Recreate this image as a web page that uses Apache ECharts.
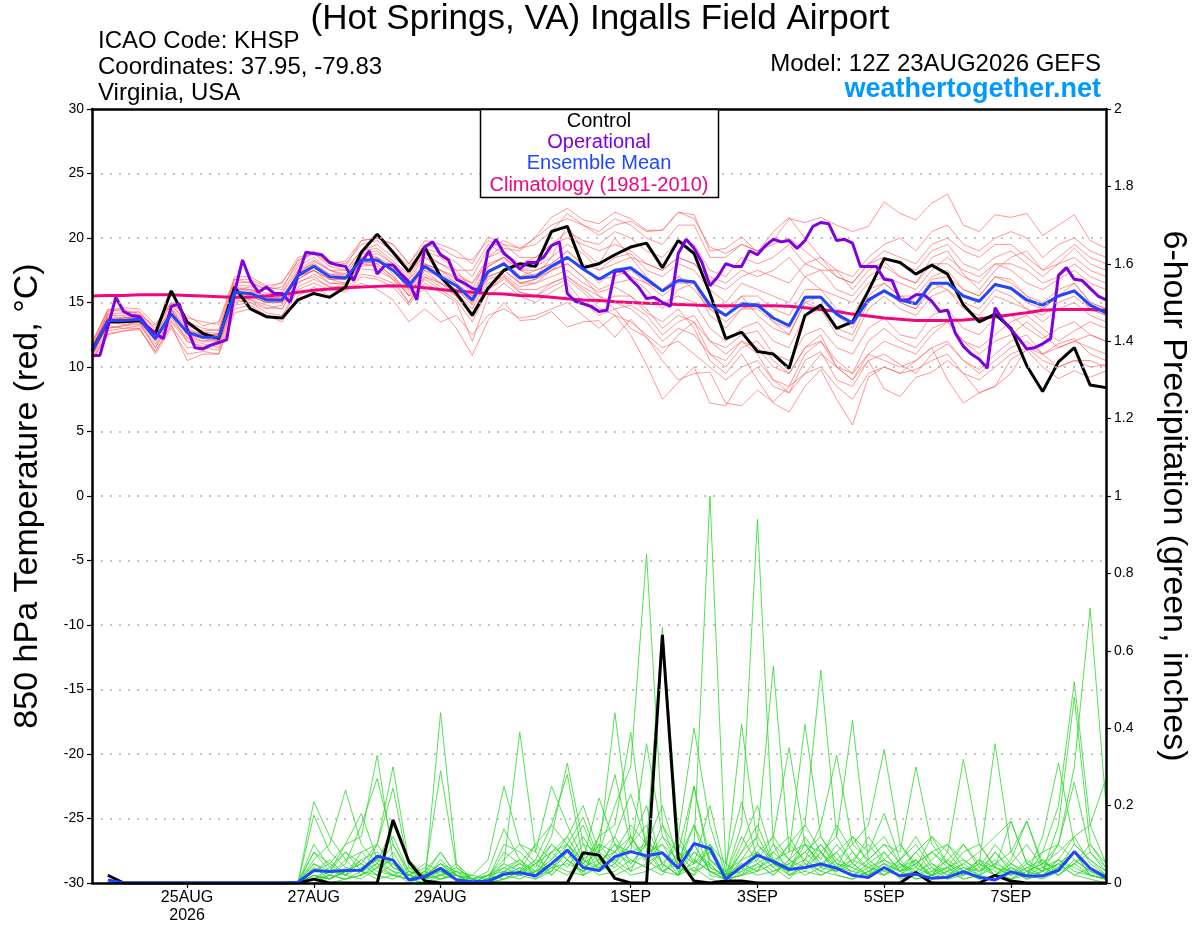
<!DOCTYPE html>
<html>
<head>
<meta charset="utf-8">
<script src="https://cdn.jsdelivr.net/npm/echarts@6/dist/echarts.min.js"></script>
<style>
html,body{margin:0;padding:0;background:#fff;}
#chart{width:1200px;height:927px;}
</style>
</head>
<body>
<div id="chart"></div>
<script>
// ---- x axis: 3-hourly steps from 12Z 23AUG2026 (hours 0..384) ----
const tickHours  = [36, 84, 132, 204, 252, 300, 348];
const tickLabels = ['25AUG\n2026', '27AUG', '29AUG', '1SEP', '3SEP', '5SEP', '7SEP'];

// ---- 850 hPa temperature (deg C), 6-hourly, 65 values ----
const climatology = [15.5,15.55,15.55,15.6,15.6,15.6,15.55,15.5,15.45,15.4,15.4,15.5,15.6,
 15.8,15.95,16.05,16.15,16.2,16.25,16.3,16.25,16.15,16.0,15.9,15.8,15.7,
 15.65,15.55,15.5,15.4,15.3,15.2,15.15,15.05,15.0,14.95,14.9,14.85,14.8,
 14.75,14.75,14.75,14.75,14.75,14.7,14.6,14.45,14.3,14.1,13.95,13.8,13.7,
 13.6,13.6,13.6,13.65,13.75,13.9,14.05,14.2,14.4,14.45,14.45,14.45,14.4];
const controlT = [11.3,13.5,13.5,13.6,12.6,15.9,13.5,12.6,12.2,16.2,14.5,13.9,13.8,
 15.2,15.7,15.4,16.2,18.9,20.3,18.9,17.4,19.3,17.0,15.7,14.0,16.1,
 17.5,18.0,17.8,20.5,20.9,17.7,18.0,18.7,19.3,19.6,17.7,19.8,18.8,
 15.7,12.2,12.7,11.2,11.0,9.9,14.0,14.8,13.0,13.5,15.9,18.4,18.1,
 17.2,17.9,17.2,14.8,13.5,14.1,13.0,10.1,8.1,10.4,11.5,8.6,8.4];
const meanT = [11.2,13.6,13.6,13.7,12.2,14.1,12.7,12.3,12.3,15.8,15.7,15.2,15.2,
 17.1,17.8,17.0,16.9,18.3,18.3,17.5,16.3,17.8,17.0,16.3,15.2,17.4,
 18.0,16.9,17.0,17.8,18.5,17.6,16.8,17.5,17.7,16.8,15.9,16.7,16.6,
 14.8,14.0,14.9,14.8,13.8,13.2,15.4,15.4,14.1,13.4,15.2,15.9,15.2,
 14.9,16.5,16.5,15.5,15.1,16.4,16.1,15.2,14.8,15.5,15.9,14.8,14.2];
// operational run, 3-hourly, 129 values
const operationalT = [10.9,10.9,13.1,15.4,14.3,14.0,13.9,13.1,12.6,12.2,14.7,14.9,13.0,11.5,11.4,11.7,
 11.9,12.1,15.8,18.3,16.7,15.8,16.2,15.7,15.7,15.0,17.1,18.9,18.8,18.7,18.1,17.9,
 17.8,16.7,18.1,19.0,17.2,17.9,17.9,17.2,16.6,15.2,19.3,19.7,18.7,18.3,16.8,16.5,
 16.1,15.9,19.0,19.9,18.8,18.3,17.6,18.1,18.1,18.5,19.4,19.7,15.7,15.1,14.9,14.7,
 14.3,14.4,17.4,17.5,16.8,16.2,15.3,15.4,15.0,14.7,18.8,19.9,19.2,18.1,16.3,17.0,
 18.0,17.8,17.8,19.0,18.7,19.4,19.9,19.7,19.8,19.2,19.8,20.9,21.2,21.1,19.8,19.9,
 19.6,17.8,17.8,17.8,16.8,16.7,15.2,15.2,15.6,15.6,15.1,14.3,14.4,12.6,11.6,11.0,
 10.6,9.9,14.6,13.6,12.9,12.2,11.4,11.5,11.8,12.2,17.1,17.7,16.8,16.7,16.1,15.5,15.2];

// ensemble members, 6-hourly, 65 values each
const t01 = [11.5,14.1,14.2,14.3,12.8,14.9,13.3,12.8,12.9,16.5,16.6,16.0,16.2,18.0,18.9,18.2,18.0,19.5,19.8,19.0,17.8,19.2,18.8,18.1,17.0,19.2,19.8,19.2,19.5,20.5,21.9,21.0,20.2,21.0,21.3,20.5,20.6,22.0,21.5,19.3,18.8,19.5,19.0,19.8,21.5,21.2,21.6,21.0,20.5,20.9,22.8,21.9,21.4,22.7,23.4,21.0,20.5,21.8,21.6,21.9,20.2,21.0,21.8,19.8,19.2];
const t02 = [10.8,13.0,13.2,13.3,11.5,13.5,12.0,11.6,11.8,15.0,15.2,14.6,14.5,16.5,17.2,16.5,16.4,17.6,17.5,16.8,15.6,17.0,16.2,15.5,14.2,16.5,17.0,15.8,15.5,16.2,16.8,15.8,14.6,14.0,12.5,10.2,7.5,8.8,10.0,7.2,7.0,9.0,10.0,8.5,8.0,10.5,11.2,9.0,8.5,10.5,11.0,10.2,9.5,11.0,11.8,10.5,9.8,11.0,12.0,12.5,11.0,11.8,12.2,11.0,10.5];
const t03 = [11.0,13.2,13.0,13.2,11.8,13.6,12.2,11.8,11.5,15.2,15.0,14.5,14.8,16.6,17.0,16.2,16.3,17.8,18.0,17.0,15.8,17.2,16.5,15.8,14.5,16.8,17.2,16.2,16.5,17.0,17.5,16.5,15.8,16.2,15.5,14.2,13.5,14.5,13.0,10.5,9.5,11.0,9.0,7.2,6.5,8.5,9.8,7.5,5.5,9.2,10.0,9.5,10.5,11.5,9.0,7.2,8.0,8.5,10.6,11.3,10.0,9.1,9.7,9.2,9.7];
const t04 = [11.8,14.5,14.3,14.2,13.0,14.8,13.5,13.0,12.8,16.8,16.5,16.0,16.6,18.2,19.0,18.0,17.8,19.8,20.0,19.5,18.0,19.5,19.2,18.5,18.3,19.8,19.2,19.0,20.1,21.6,22.3,21.4,21.1,22.0,21.5,20.6,20.6,22.0,21.8,19.0,19.2,20.1,18.9,20.5,21.6,20.0,18.5,17.5,16.0,17.5,18.2,17.0,16.5,18.5,19.0,17.2,16.0,17.5,18.5,19.0,17.5,18.0,19.2,18.0,17.5];
const t05 = [10.5,12.5,12.8,13.0,11.0,13.0,11.0,11.2,11.0,14.5,14.8,14.0,13.8,16.0,16.5,16.0,15.8,17.0,16.8,16.2,14.8,16.5,15.8,15.0,12.0,15.5,16.5,15.5,15.0,15.8,16.5,15.0,14.0,14.5,14.8,14.0,12.5,13.5,14.0,12.0,11.5,12.5,12.8,11.0,10.5,12.5,13.0,11.5,11.0,13.0,13.8,12.5,12.2,14.0,14.5,13.0,12.5,13.8,14.0,13.0,12.2,13.0,13.5,12.5,12.0];
const t06 = [11.0,13.8,13.5,13.6,12.5,14.0,12.8,12.5,12.0,15.5,15.5,15.0,15.0,17.0,17.5,16.8,16.5,18.0,18.5,17.2,15.5,16.0,14.5,13.0,10.9,13.6,15.0,13.6,13.7,14.3,13.1,13.5,13.6,12.3,13.7,12.3,11.0,12.5,13.5,11.0,10.5,12.0,11.0,9.0,8.5,11.0,12.0,10.5,9.5,12.0,13.0,12.0,11.5,13.0,13.5,12.0,11.5,12.5,13.5,14.0,13.0,12.0,12.8,13.5,13.0];
const t07 = [12.0,14.3,14.5,14.0,13.2,15.0,14.0,13.2,13.5,17.0,17.0,16.3,16.5,18.5,18.8,17.8,17.5,19.0,19.5,18.5,17.5,18.5,17.5,17.0,16.5,18.5,19.0,17.5,17.8,18.5,19.5,18.8,17.5,18.5,18.8,17.5,17.0,18.0,17.5,16.0,15.0,16.5,16.0,15.5,15.0,17.0,17.5,16.0,15.5,17.0,17.8,17.0,16.5,18.0,18.0,17.0,16.5,18.0,17.5,16.5,16.0,16.8,17.5,16.5,16.0];
const t08 = [10.8,13.5,13.8,13.9,12.0,14.5,12.5,12.0,12.2,16.0,16.0,15.5,15.0,17.5,18.0,17.2,17.0,18.5,18.2,17.8,16.8,18.0,17.5,16.5,15.5,17.8,18.5,17.0,17.5,18.0,19.0,17.8,16.5,17.5,17.0,16.0,14.5,16.0,16.5,14.0,13.0,14.5,15.0,13.5,12.5,15.0,15.5,14.0,13.0,15.5,16.5,15.5,15.0,16.8,17.0,16.0,15.5,17.0,16.8,15.5,14.5,15.5,16.5,15.0,14.5];
const t09 = [11.3,13.0,13.2,13.5,11.5,14.0,12.0,11.5,11.8,15.5,15.2,14.8,14.5,16.8,17.5,16.5,16.5,18.0,17.8,16.8,15.0,17.0,16.5,15.5,14.0,16.0,17.0,16.0,16.0,16.5,17.0,16.0,15.0,15.5,15.5,14.5,13.0,14.0,13.5,12.0,11.0,12.0,11.5,10.0,9.5,11.5,12.5,10.0,9.0,10.5,8.3,7.7,9.2,9.6,10.5,9.5,8.0,8.5,9.5,11.5,11.0,10.0,10.5,10.0,10.2];
const t10 = [11.5,13.8,13.8,14.0,12.5,14.5,13.0,12.5,12.5,16.2,16.0,15.5,15.8,17.8,18.5,17.5,17.2,18.8,19.0,18.0,16.8,18.5,18.0,17.5,16.0,18.5,19.5,18.5,18.5,19.5,20.5,19.8,19.5,20.5,20.0,19.0,18.5,19.8,19.5,17.5,17.0,18.5,18.0,18.5,19.5,18.0,17.5,17.5,17.0,18.5,19.5,20.0,19.0,20.5,21.0,19.5,19.0,20.0,20.5,20.0,18.5,19.5,20.0,19.0,18.5];
const t11 = [10.9,13.3,13.5,13.4,12.0,13.8,12.3,12.0,12.0,15.3,15.5,15.0,15.2,16.8,17.5,16.8,16.8,18.2,18.5,17.5,16.0,17.5,17.0,16.2,15.0,17.0,17.5,16.5,16.8,17.5,18.0,17.0,16.0,16.5,16.8,15.5,15.0,15.5,15.0,13.0,12.0,13.0,13.5,12.0,11.5,14.0,14.5,12.5,12.0,14.5,15.5,14.5,14.0,15.5,16.0,14.5,14.0,15.5,15.0,14.5,13.5,14.5,15.0,14.0,13.5];
const t12 = [11.2,13.5,13.3,13.5,12.2,14.2,12.5,12.2,12.0,15.8,15.5,15.0,15.0,17.0,17.8,17.0,16.8,18.2,18.0,17.0,15.5,17.5,16.5,16.0,15.0,17.0,17.5,16.5,16.5,17.5,18.0,17.0,15.5,14.5,13.0,12.3,10.5,9.0,9.5,9.6,7.2,7.0,8.2,7.3,8.5,9.5,11.0,10.0,9.5,11.0,12.0,11.5,11.0,12.5,13.5,12.0,11.0,12.0,12.5,13.5,12.5,11.5,12.0,12.5,12.0];
const t13 = [11.6,14.0,14.0,14.1,12.6,14.6,13.2,12.7,12.6,16.3,16.3,15.7,15.7,17.5,18.3,17.5,17.5,19.0,19.2,18.2,17.2,19.0,18.5,17.5,17.5,19.5,18.8,18.0,18.5,19.5,20.0,19.5,19.0,19.5,19.0,18.0,17.5,18.5,18.0,16.5,16.0,17.0,17.5,17.0,16.5,18.0,18.5,17.0,16.5,18.0,18.5,18.0,17.5,19.0,19.5,18.0,17.5,18.5,19.0,18.0,17.0,18.0,18.5,17.5,17.0];
const t14 = [10.6,12.8,13.0,13.0,11.2,13.2,11.5,11.5,11.3,14.8,15.0,14.2,14.0,16.2,16.8,16.2,16.0,17.2,17.0,16.5,15.0,16.8,16.0,15.2,13.5,16.0,16.8,15.8,15.5,16.5,17.0,16.2,15.5,15.0,14.5,13.5,12.0,13.0,12.5,11.0,10.0,11.5,12.0,10.5,9.5,11.5,12.0,10.0,9.0,11.0,10.5,10.0,10.5,11.5,12.0,10.5,9.5,10.5,11.5,12.0,11.0,11.5,12.0,11.5,11.0];
const t15 = [11.4,14.2,13.6,13.8,12.2,14.3,12.6,12.4,12.6,16.0,16.2,15.2,15.5,17.2,18.2,17.5,17.0,18.5,18.8,18.0,17.0,18.8,18.0,17.2,16.5,18.0,18.5,17.5,17.0,18.5,21.0,19.0,18.0,20.0,18.5,17.0,16.0,17.0,16.0,14.5,14.0,15.5,14.0,13.0,12.5,15.0,14.5,13.0,12.5,15.0,16.0,15.0,14.5,16.5,16.0,15.0,14.5,16.0,15.5,14.5,14.0,15.0,15.5,14.5,14.0];
const t16 = [11.0,13.6,13.9,13.8,12.3,14.4,12.9,12.4,12.5,16.0,15.9,15.4,15.3,17.3,18.0,17.2,17.2,18.8,18.5,17.8,16.5,18.0,17.5,16.8,15.8,17.8,18.5,17.5,17.5,18.0,19.0,18.0,17.5,18.0,18.5,18.0,17.5,18.5,18.0,17.0,16.5,17.5,17.0,17.5,18.5,17.0,16.0,15.5,15.0,16.5,17.0,16.5,16.0,17.5,18.5,17.5,17.0,18.0,18.0,17.5,16.5,17.0,18.0,17.0,16.5];
const t17 = [11.7,14.4,14.6,14.5,13.3,15.0,13.8,13.5,13.3,16.8,16.8,16.2,16.0,18.3,18.8,18.0,18.2,19.8,20.0,19.5,18.0,19.8,19.5,19.0,18.0,20.1,19.5,19.2,20.0,21.0,21.5,21.0,20.5,21.5,21.0,20.0,19.5,21.0,21.0,18.5,18.5,19.5,19.0,19.5,20.0,19.0,18.0,17.0,16.5,18.0,19.0,18.5,18.0,19.5,20.0,19.0,18.5,19.5,19.5,18.5,17.5,18.5,19.5,18.5,18.0];
const t18 = [10.5,12.6,12.8,12.9,11.2,13.3,10.5,11.0,11.0,14.2,14.5,14.0,13.5,15.5,16.2,15.5,16.0,16.5,16.0,15.2,13.5,14.5,13.5,14.0,12.5,14.0,14.5,13.8,14.0,14.5,15.0,14.0,13.0,14.0,13.5,12.5,11.5,12.0,11.0,10.0,9.0,10.0,10.5,9.0,8.0,9.5,10.0,8.5,7.5,9.5,10.0,9.5,9.8,10.5,11.0,9.5,9.0,10.0,11.0,11.5,10.5,10.0,10.5,10.5,10.0];
const t19 = [11.3,13.9,13.5,13.6,12.4,14.0,12.6,12.3,12.2,15.6,15.8,15.3,15.0,17.0,17.5,16.8,16.8,18.0,18.2,17.5,16.5,18.0,17.2,16.5,15.5,17.5,18.0,17.0,17.2,17.8,18.5,17.5,16.8,17.5,17.0,16.5,16.0,17.0,16.5,15.0,14.5,15.5,15.5,14.5,14.0,16.0,16.0,14.5,14.0,16.0,16.5,15.5,15.5,17.0,17.5,16.0,15.5,17.0,16.5,15.5,15.0,16.0,16.5,15.0,14.5];
const t20 = [11.1,13.4,13.8,13.7,12.1,14.1,12.8,12.3,12.4,15.8,15.6,15.3,15.4,17.2,17.8,17.0,17.0,18.3,18.2,17.5,16.0,17.8,16.8,16.0,14.8,17.2,18.2,16.5,16.8,17.5,18.5,17.5,16.8,17.0,17.5,16.5,15.5,16.5,16.5,14.5,13.5,14.5,14.5,13.5,13.0,15.5,15.5,14.0,13.5,15.0,16.0,15.0,14.5,16.0,16.5,15.5,15.0,16.5,16.0,15.0,14.5,15.5,16.0,14.5,14.0];

// ---- 6-hour precipitation (inches), 6-hourly steps 1..64 ----
const controlP = [0.02,0,0,0,0,0,0,0,0,0,0,0,0,0.01,0,0,
 0,0,0.163,0.055,0.005,0,0,0,0,0,0,0,0,0,0.078,0.072,
 0.012,0,0,0.641,0.064,0.005,0,0.005,0.005,0,0,0,0,0,0,0,
 0,0,0,0.027,0,0,0,0,0.02,0.005,0,0,0,0,0,0];
const meanP = [0.008,0,0,0,0,0,0,0,0,0,0,0,0.002,0.032,0.03,0.032,
 0.033,0.069,0.059,0.008,0.016,0.038,0.008,0.003,0.005,0.023,0.027,0.018,0.05,0.085,0.04,0.032,
 0.068,0.081,0.07,0.078,0.038,0.102,0.089,0.01,0.042,0.072,0.055,0.035,0.04,0.049,0.038,0.02,
 0.014,0.04,0.018,0.023,0.012,0.015,0.029,0.015,0.008,0.029,0.018,0.018,0.033,0.081,0.038,0.014];
const p01 = [0,0,0,0,0,0,0,0,0,0,0,0,0,0.02,0.01,0.03, 0.05,0.02,0.08,0.01,0,0.44,0.05,0,0,0.02,0.04,0.01,0.03,0.08,0.02,0.05, 0.1,0.03,0.12,0.05,0.02,0.1,1.0,0.05,0.02,0.08,0.04,0.01,0.06,0.03,0.02,0.01, 0.03,0.05,0.01,0.02,0.04,0.01,0.02,0.06,0.02,0.01,0.03,0.05,0.1,0.3,0.71,0.2];
const p02 = [0,0,0,0,0,0,0,0,0,0,0,0,0,0.05,0.02,0.06, 0.02,0.1,0.04,0.02,0.01,0.06,0.02,0,0.01,0.05,0.39,0.08,0.02,0.06,0.03,0.1, 0.05,0.12,0.06,0.1,0.03,0.05,0.08,0.02,0.15,0.94,0.1,0.02,0.04,0.08,0.03,0.05, 0.02,0.04,0.02,0.06,0.01,0.03,0.05,0.02,0.01,0.04,0.02,0.03,0.15,0.48,0.1,0.05];
const p03 = [0,0,0,0,0,0,0,0,0,0,0,0,0,0.08,0.03,0.1, 0.12,0.33,0.06,0.02,0.04,0.02,0.01,0,0.02,0.03,0.05,0.02,0.08,0.12,0.05,0.08, 0.2,0.3,0.85,0.15,0.04,0.02,0.1,0.01,0.05,0.03,0.1,0.06,0.15,0.55,0.12,0.05, 0.02,0.08,0.03,0.01,0.02,0.04,0.01,0.02,0.05,0.03,0.01,0.02,0.05,0.08,0.02,0.01];
const p04 = [0,0,0,0,0,0,0,0,0,0,0,0,0,0.03,0.06,0.02, 0.08,0.1,0.3,0.05,0.01,0.03,0.02,0.01,0,0.01,0.03,0.06,0.15,0.1,0.04,0.06, 0.08,0.15,0.1,0.66,0.12,0.05,0.2,0.03,0.06,0.12,0.56,0.08,0.1,0.04,0.08,0.02, 0.05,0.02,0.04,0.06,0.02,0.01,0.03,0.05,0.02,0.01,0.04,0.02,0.06,0.12,0.05,0.02];
const p05 = [0,0,0,0,0,0,0,0,0,0,0,0,0,0.01,0.04,0.02, 0.04,0.06,0.12,0.03,0.02,0.05,0.03,0.02,0.01,0.1,0.08,0.04,0.12,0.31,0.1,0.08, 0.44,0.12,0.06,0.03,0.02,0.08,0.05,0.01,0.08,0.12,0.05,0.1,0.15,0.08,0.12,0.42, 0.06,0.03,0.02,0.05,0.02,0.08,0.03,0.01,0.02,0.05,0.03,0.02,0.04,0.1,0.06,0.02];
const p06 = [0,0,0,0,0,0,0,0,0,0,0,0,0,0.1,0.04,0.08, 0.03,0.05,0.15,0.06,0.02,0.29,0.04,0.01,0,0.03,0.02,0.05,0.1,0.06,0.02,0.12, 0.15,0.39,0.08,0.1,0.06,0.15,0.02,0.01,0.1,0.2,0.06,0.08,0.41,0.12,0.05,0.04, 0.08,0.12,0.05,0.02,0.06,0.1,0.04,0.02,0.08,0.03,0.02,0.06,0.02,0.05,0.1,0.04];
const p07 = [0,0,0,0,0,0,0,0,0,0,0,0,0,0.06,0.1,0.24, 0.1,0.05,0.02,0.01,0.03,0.01,0.02,0,0.01,0.04,0.06,0.03,0.05,0.08,0.15,0.05, 0.06,0.1,0.2,0.04,0.12,0.4,0.15,0.02,0.05,0.03,0.08,0.12,0.05,0.02,0.04,0.06, 0.1,0.05,0.03,0.08,0.12,0.05,0.02,0.04,0.1,0.05,0.02,0.08,0.2,0.52,0.15,0.05];
const p08 = [0,0,0,0,0,0,0,0,0,0,0,0,0,0.21,0.12,0.06, 0.08,0.04,0.1,0.02,0.05,0.03,0.01,0.02,0.06,0.25,0.1,0.05,0.08,0.04,0.1,0.03, 0.12,0.05,0.1,0.08,0.04,0.15,0.06,0.03,0.41,0.1,0.05,0.03,0.12,0.06,0.15,0.08, 0.04,0.02,0.06,0.12,0.05,0.03,0.08,0.1,0.04,0.02,0.05,0.08,0.1,0.06,0.03,0.01];
const p09 = [0,0,0,0,0,0,0,0,0,0,0,0,0,0.04,0.02,0.05, 0.15,0.27,0.1,0.03,0.02,0.08,0.02,0.01,0.02,0.06,0.1,0.08,0.25,0.15,0.06,0.1, 0.08,0.12,0.05,0.15,0.08,0.05,0.1,0.02,0.04,0.06,0.12,0.35,0.1,0.05,0.08,0.12, 0.05,0.08,0.03,0.06,0.02,0.04,0.1,0.05,0.36,0.08,0.03,0.05,0.04,0.08,0.02,0.01];
const p10 = [0,0,0,0,0,0,0,0,0,0,0,0,0,0.02,0.01,0.03, 0.06,0.08,0.04,0.02,0.01,0.04,0.02,0,0.01,0.02,0.05,0.03,0.1,0.06,0.12,0.05, 0.1,0.08,0.36,0.12,0.05,0.08,0.04,0.02,0.03,0.1,0.06,0.04,0.08,0.12,0.06,0.1, 0.15,0.345,0.1,0.05,0.08,0.04,0.06,0.03,0.08,0.04,0.02,0.12,0.31,0.1,0.06,0.03];
const p11 = [0,0,0,0,0,0,0,0,0,0,0,0,0,0.175,0.08,0.04, 0.03,0.06,0.05,0.01,0.03,0.08,0.02,0,0.01,0.08,0.05,0.1,0.15,0.28,0.06,0.04, 0.08,0.05,0.1,0.03,0.06,0.1,0.03,0.01,0.06,0.08,0.04,0.1,0.06,0.15,0.33,0.1, 0.06,0.1,0.08,0.3,0.1,0.05,0.03,0.06,0.02,0.05,0.1,0.04,0.02,0.06,0.03,0.02];
const p12 = [0,0,0,0,0,0,0,0,0,0,0,0,0,0.05,0.03,0.08, 0.05,0.1,0.245,0.04,0.02,0.05,0.01,0,0,0.03,0.02,0.06,0.04,0.08,0.05,0.12, 0.28,0.1,0.15,0.05,0.02,0.25,0.06,0.02,0.12,0.05,0.02,0.06,0.1,0.05,0.03,0.08, 0.03,0.06,0.1,0.04,0.12,0.08,0.32,0.1,0.04,0.02,0.06,0.03,0.05,0.02,0.04,0.01];
const p13 = [0,0,0,0,0,0,0,0,0,0,0,0,0,0.08,0.05,0.1, 0.18,0.06,0.03,0.02,0.01,0.02,0.04,0.01,0.02,0.05,0.03,0.1,0.06,0.12,0.2,0.08, 0.05,0.1,0.06,0.12,0.08,0.25,0.04,0.02,0.08,0.15,0.05,0.03,0.1,0.08,0.04,0.12, 0.08,0.18,0.06,0.1,0.04,0.02,0.05,0.08,0.12,0.16,0.05,0.03,0.1,0.26,0.08,0.04];
const p14 = [0,0,0,0,0,0,0,0,0,0,0,0,0,0.01,0.02,0.01, 0.02,0.04,0.06,0.01,0.02,0.01,0.03,0.01,0,0.02,0.04,0.02,0.08,0.1,0.06,0.22, 0.1,0.06,0.04,0.08,0.05,0.03,0.1,0.05,0.21,0.06,0.03,0.05,0.08,0.04,0.1,0.05, 0.12,0.06,0.04,0.08,0.03,0.06,0.1,0.04,0.02,0.06,0.16,0.05,0.08,0.12,0.15,0.27];
const p15 = [0,0,0,0,0,0,0,0,0,0,0,0,0,0.03,0.05,0.02, 0.06,0.03,0.02,0.04,0.01,0.05,0.02,0.01,0.03,0.14,0.06,0.02,0.04,0.05,0.03,0.08, 0.12,0.23,0.1,0.05,0.1,0.06,0.03,0.02,0.04,0.08,0.12,0.06,0.04,0.1,0.05,0.03, 0.06,0.1,0.05,0.03,0.08,0.05,0.02,0.06,0.04,0.16,0.05,0.03,0.06,0.04,0.02,0.01];
const p16 = [0,0,0,0,0,0,0,0,0,0,0,0,0,0.02,0.01,0.04, 0.03,0.02,0.05,0.01,0.02,0.03,0.01,0,0.02,0.04,0.02,0.03,0.06,0.1,0.17,0.06, 0.04,0.08,0.1,0.2,0.06,0.1,0.03,0.01,0.02,0.05,0.08,0.04,0.06,0.1,0.04,0.02, 0.04,0.06,0.03,0.05,0.08,0.1,0.06,0.03,0.05,0.08,0.16,0.04,0.02,0.05,0.08,0.03];
const p17 = [0,0,0,0,0,0,0,0,0,0,0,0,0,0.01,0.03,0.02, 0.01,0.04,0.02,0.01,0,0.01,0.02,0,0.01,0.02,0.01,0.03,0.05,0.03,0.02,0.04, 0.06,0.03,0.05,0.08,0.02,0.04,0.01,0,0.03,0.05,0.02,0.06,0.03,0.08,0.02,0.01, 0.03,0.02,0.05,0.01,0.02,0.06,0.03,0.01,0.02,0.04,0.01,0.03,0.05,0.02,0.01,0];
const p18 = [0,0,0,0,0,0,0,0,0,0,0,0,0,0.04,0.01,0.03, 0.05,0.02,0.01,0.03,0.01,0.02,0.05,0.01,0,0.03,0.06,0.02,0.03,0.1,0.05,0.02, 0.03,0.06,0.04,0.02,0.08,0.03,0.05,0.01,0.02,0.04,0.06,0.02,0.05,0.03,0.06,0.04, 0.02,0.04,0.02,0.03,0.05,0.02,0.04,0.03,0.06,0.02,0.04,0.06,0.03,0.08,0.04,0.02];
const p19 = [0,0,0,0,0,0,0,0,0,0,0,0,0,0,0.02,0.01, 0.02,0.05,0.03,0,0.02,0.04,0.01,0,0.02,0.01,0.03,0.05,0.02,0.06,0.03,0.05, 0.02,0.04,0.08,0.03,0.05,0.02,0.06,0.02,0.04,0.02,0.03,0.05,0.02,0.04,0.03,0.06, 0.04,0.03,0.06,0.02,0.03,0.04,0.02,0.05,0.03,0.01,0.02,0.04,0.06,0.03,0.02,0.01];
const p20 = [0,0,0,0,0,0,0,0,0,0,0,0,0,0.02,0,0.01, 0.03,0.01,0.02,0.01,0,0.02,0.03,0,0,0.01,0.02,0.01,0.04,0.02,0.06,0.03, 0.05,0.02,0.03,0.05,0.02,0.06,0.03,0.01,0.02,0.03,0.05,0.02,0.03,0.02,0.04,0.03, 0.02,0.05,0.03,0.04,0.02,0.03,0.01,0.02,0.04,0.03,0.02,0.01,0.03,0.05,0.02,0.01];

const tempMembers = [t01,t02,t03,t04,t05,t06,t07,t08,t09,t10,t11,t12,t13,t14,t15,t16,t17,t18,t19,t20];
const precipMembers = [p01,p02,p03,p04,p05,p06,p07,p08,p09,p10,p11,p12,p13,p14,p15,p16,p17,p18,p19,p20];

// ---- build ----
const NCAT = 129;
const categories = Array.from({length: NCAT}, (_, k) => String(k * 3));
const tickIdx = tickHours.map(h => h / 3);
function sixHourly(arr, offset) {
  const out = new Array(NCAT).fill(null);
  arr.forEach((v, i) => { out[2 * (i + offset)] = v; });
  return out;
}
const FONT = 'Liberation Sans, Arial, sans-serif';
const series = [];
tempMembers.forEach((m, k) => series.push({
  type: 'line', name: 'T' + (k + 1), data: sixHourly(m, 0), connectNulls: true,
  symbol: 'none', silent: true, yAxisIndex: 0,
  lineStyle: {color: '#ff4d4d', width: 0.7, opacity: 0.85}
}));
precipMembers.forEach((m, k) => series.push({
  type: 'line', name: 'P' + (k + 1), data: sixHourly(m, 1), connectNulls: true,
  symbol: 'none', silent: true, yAxisIndex: 1,
  lineStyle: {color: '#2ad82a', width: 0.8}
}));
series.push({type: 'line', name: 'Climatology', data: sixHourly(climatology, 0), connectNulls: true,
  symbol: 'none', silent: true, yAxisIndex: 0, lineStyle: {color: '#f0067f', width: 3}});
series.push({type: 'line', name: 'ControlT', data: sixHourly(controlT, 0), connectNulls: true,
  symbol: 'none', silent: true, yAxisIndex: 0, lineStyle: {color: '#000000', width: 3}});
series.push({type: 'line', name: 'ControlP', data: sixHourly(controlP, 1), connectNulls: true,
  symbol: 'none', silent: true, yAxisIndex: 1, lineStyle: {color: '#000000', width: 3}});
series.push({type: 'line', name: 'Operational', data: operationalT,
  symbol: 'none', silent: true, yAxisIndex: 0, lineStyle: {color: '#8000e0', width: 3}});
series.push({type: 'line', name: 'MeanT', data: sixHourly(meanT, 0), connectNulls: true,
  symbol: 'none', silent: true, yAxisIndex: 0, lineStyle: {color: '#2046ff', width: 3}});
series.push({type: 'line', name: 'MeanP', data: sixHourly(meanP, 1), connectNulls: true,
  symbol: 'none', silent: true, yAxisIndex: 1, lineStyle: {color: '#2046ff', width: 3}});

const chart = echarts.init(document.getElementById('chart'), null, {renderer: 'canvas'});
chart.setOption({
  animation: false,
  backgroundColor: '#ffffff',
  textStyle: {fontFamily: FONT},
  grid: {left: 92, right: 94, top: 109, bottom: 44, containLabel: false,
         show: false},
  xAxis: [{
    type: 'category', data: categories, boundaryGap: false, position: 'bottom', z: 10,
    axisLine: {show: true, onZero: false, lineStyle: {color: '#000', width: 2.5}},
    axisTick: {show: true, length: 5, lineStyle: {color: '#000', width: 1.2},
               interval: (idx) => tickIdx.includes(idx)},
    axisLabel: {show: true, interval: (idx) => tickIdx.includes(idx), color: '#000',
                fontSize: 16, fontFamily: FONT, lineHeight: 18, margin: 6,
                formatter: (v, idx) => { const p = tickIdx.indexOf(idx); return p >= 0 ? tickLabels[p] : ''; }},
    splitLine: {show: false}
  }, {
    type: 'category', data: categories, boundaryGap: false, position: 'top', z: 10,
    axisLine: {show: true, onZero: false, lineStyle: {color: '#000', width: 2.5}},
    axisTick: {show: false}, axisLabel: {show: false}, splitLine: {show: false}
  }],
  yAxis: [{
    type: 'value', min: -30, max: 30, interval: 5, position: 'left', z: 10,
    name: '850 hPa Temperature (red, °C)', nameLocation: 'middle', nameRotate: 90, nameGap: 47,
    nameTextStyle: {fontSize: 34, color: '#000', fontFamily: FONT},
    axisLine: {show: true, onZero: false, lineStyle: {color: '#000', width: 2.5}},
    axisTick: {show: true, length: 5, lineStyle: {color: '#000', width: 1.2}},
    axisLabel: {color: '#000', fontSize: 14, fontFamily: FONT, margin: 8},
    splitLine: {show: true, showMinLine: false, showMaxLine: false,
                lineStyle: {color: '#b0b0b0', width: 1.5, type: [2, 7]}}
  }, {
    type: 'value', min: 0, max: 2, interval: 0.2, position: 'right', z: 10,
    name: '6-hour Precipitation (green, inches)', nameLocation: 'middle', nameRotate: -90, nameGap: 50,
    nameTextStyle: {fontSize: 34, color: '#000', fontFamily: FONT},
    axisLine: {show: true, onZero: false, lineStyle: {color: '#000', width: 2.5}},
    axisTick: {show: true, length: 5, lineStyle: {color: '#000', width: 1.2}},
    axisLabel: {color: '#000', fontSize: 14, fontFamily: FONT, margin: 8,
                formatter: v => String(Math.round(v * 10) / 10)},
    splitLine: {show: false}
  }],
  series: series,
  graphic: [
    {type: 'text', z: 100, x: 600, y: 19,
     style: {text: '(Hot Springs, VA) Ingalls Field Airport', font: '35px ' + FONT, fill: '#000', textAlign: 'center', textVerticalAlign: 'middle'}},
    {type: 'text', z: 100, x: 98, y: 41, style: {text: 'ICAO Code: KHSP', font: '24px ' + FONT, fill: '#000', textVerticalAlign: 'middle'}},
    {type: 'text', z: 100, x: 98, y: 67, style: {text: 'Coordinates: 37.95, -79.83', font: '24px ' + FONT, fill: '#000', textVerticalAlign: 'middle'}},
    {type: 'text', z: 100, x: 98, y: 93, style: {text: 'Virginia, USA', font: '24px ' + FONT, fill: '#000', textVerticalAlign: 'middle'}},
    {type: 'text', z: 100, x: 1101, y: 64, style: {text: 'Model: 12Z 23AUG2026 GEFS', font: '24px ' + FONT, fill: '#000', textAlign: 'right', textVerticalAlign: 'middle'}},
    {type: 'text', z: 100, x: 1101, y: 90, style: {text: 'weathertogether.net', font: 'bold 27px ' + FONT, fill: '#0099ff', textAlign: 'right', textVerticalAlign: 'middle'}},
    {type: 'rect', z: 100, shape: {x: 480.5, y: 109.5, width: 238, height: 88},
     style: {fill: '#ffffff', stroke: '#000', lineWidth: 1.5}},
    {type: 'text', z: 101, x: 599, y: 121, style: {text: 'Control', font: '20px ' + FONT, fill: '#000', textAlign: 'center', textVerticalAlign: 'middle'}},
    {type: 'text', z: 101, x: 599, y: 142, style: {text: 'Operational', font: '20px ' + FONT, fill: '#8000e0', textAlign: 'center', textVerticalAlign: 'middle'}},
    {type: 'text', z: 101, x: 599, y: 163, style: {text: 'Ensemble Mean', font: '20px ' + FONT, fill: '#2046ff', textAlign: 'center', textVerticalAlign: 'middle'}},
    {type: 'text', z: 101, x: 599, y: 185, style: {text: 'Climatology (1981-2010)', font: '20px ' + FONT, fill: '#f0067f', textAlign: 'center', textVerticalAlign: 'middle'}}
  ]
});
</script>
</body>
</html>
